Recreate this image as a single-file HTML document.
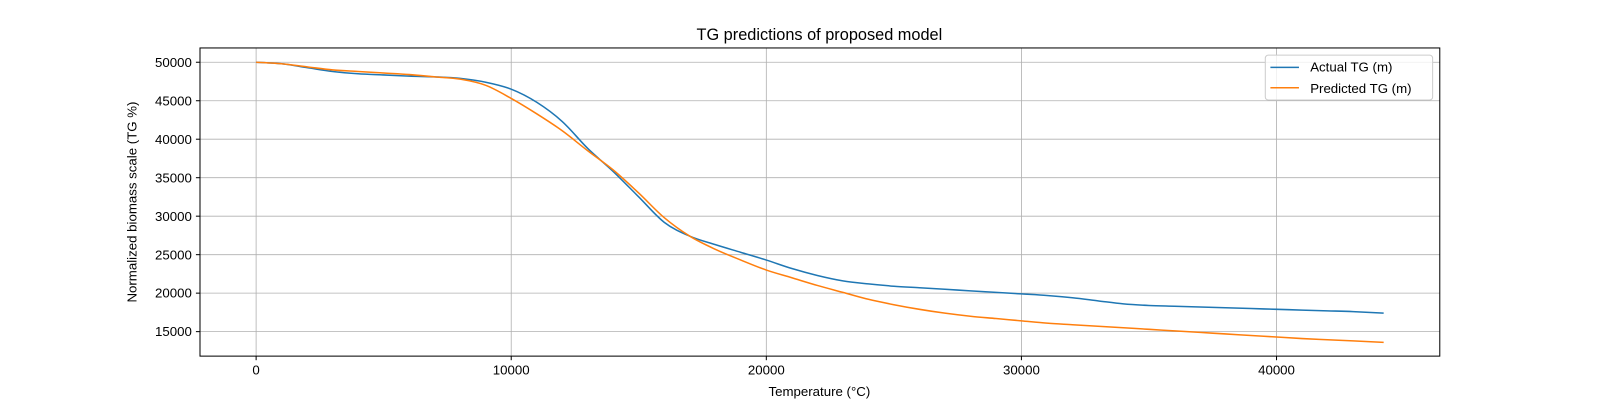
<!DOCTYPE html>
<html><head><meta charset="utf-8"><style>
html,body{margin:0;padding:0;background:#fff;width:1600px;height:400px;overflow:hidden}
svg{display:block;font-family:"Liberation Sans","DejaVu Sans",sans-serif}
</style></head><body>
<svg id="chart" width="1600" height="400" xmlns="http://www.w3.org/2000/svg">
<rect width="1600" height="400" fill="#fff"/>
<g transform="scale(1.0204)">
<g id="grid"></g>
<g id="lines"></g>
<rect x="196" y="47" width="1215" height="302" fill="none" stroke="#000" stroke-width="1"/>
<g id="ticks"></g>
<text x="803" y="39" text-anchor="middle" font-size="16">TG predictions of proposed model</text>
<text x="803" y="388" text-anchor="middle" font-size="13">Temperature (°C)</text>
<text transform="translate(134,198) rotate(-90)" text-anchor="middle" font-size="13">Normalized biomass scale (TG %)</text>
<g>
<rect x="1240" y="54" width="164" height="44" rx="3" fill="#fff" fill-opacity="0.8" stroke="#ccc"/>
<g><line x1="1245" y1="66" x2="1273" y2="66" stroke="#1f77b4" stroke-width="1.5"/><text x="1284" y="70" font-size="13">Actual TG (m)</text></g>
<g><line x1="1245" y1="86" x2="1273" y2="86" stroke="#ff7f0e" stroke-width="1.5"/><text x="1284" y="91" font-size="13">Predicted TG (m)</text></g>
</g>
</g>
</svg>
<script>
const temps=[0,1000,2000,3000,4000,5000,6000,7000,8000,9000,10000,11000,12000,13000,14000,15000,16000,17000,18000,19000,20000,21000,22000,23000,24000,25000,26000,27000,28000,29000,30000,31000,32000,33000,34000,35000,36000,37000,38000,39000,40000,41000,42000,43000,44200];
const actualTG=[50000,49800,49300,48800,48500,48350,48200,48100,47900,47400,46500,44800,42300,38800,35800,32500,29200,27400,26300,25300,24300,23200,22300,21600,21200,20900,20700,20500,20300,20100,19900,19700,19400,19000,18600,18400,18300,18200,18100,18000,17900,17800,17700,17600,17400];
const predictedTG=[50000,49800,49400,49000,48800,48600,48400,48100,47800,47000,45300,43300,41100,38500,36000,33000,29800,27400,25700,24300,23000,22000,21000,20100,19200,18500,17900,17400,17000,16700,16400,16100,15900,15700,15500,15300,15100,14900,14700,14500,14300,14100,13950,13800,13600];
const xTicks=[0,10000,20000,30000,40000];
const yTicks=[15000,20000,25000,30000,35000,40000,45000,50000];
const NS="http://www.w3.org/2000/svg";
const X=v=>251+v*0.025;
const Y=v=>61+(50000-v)*264/35000;
function mk(t,a,p){const e=document.createElementNS(NS,t);for(const k in a)e.setAttribute(k,a[k]);p.appendChild(e);return e;}
const grid=document.getElementById('grid'),ticks=document.getElementById('ticks'),lines=document.getElementById('lines');
xTicks.forEach(v=>{
 const g=mk('line',{x1:X(v),x2:X(v),y1:47,y2:349,stroke:'#b0b0b0','stroke-width':0.8},grid);
 
 
 mk('line',{x1:X(v),x2:X(v),y1:349,y2:353,stroke:'#000'},ticks);
 const t=mk('text',{x:X(v),y:367,'text-anchor':'middle','font-size':13},ticks);t.textContent=v;
 
 
});
yTicks.forEach(v=>{
 const g=mk('line',{x1:196,x2:1411,y1:Y(v),y2:Y(v),stroke:'#b0b0b0','stroke-width':0.8},grid);
 
 
 mk('line',{x1:192,x2:196,y1:Y(v),y2:Y(v),stroke:'#000'},ticks);
 const t=mk('text',{x:188,y:Y(v)+4.5,'text-anchor':'end','font-size':13},ticks);t.textContent=v;
 
 
});
function path(vals){
 const p=temps.map((t,i)=>[X(t),Y(vals[i])]);
 let d='M'+p[0][0]+','+p[0][1];
 for(let i=0;i<p.length-1;i++){
  const p0=p[Math.max(0,i-1)],p1=p[i],p2=p[i+1],p3=p[Math.min(p.length-1,i+2)];
  const c1=[p1[0]+(p2[0]-p0[0])/6,p1[1]+(p2[1]-p0[1])/6],c2=[p2[0]-(p3[0]-p1[0])/6,p2[1]-(p3[1]-p1[1])/6];
  d+=' C'+c1+' '+c2+' '+p2;
 }
 return d;
}
const a=mk('path',{d:path(actualTG),fill:'none',stroke:'#1f77b4','stroke-width':1.5},lines);


const b=mk('path',{d:path(predictedTG),fill:'none',stroke:'#ff7f0e','stroke-width':1.5},lines);


</script>
</body></html>
